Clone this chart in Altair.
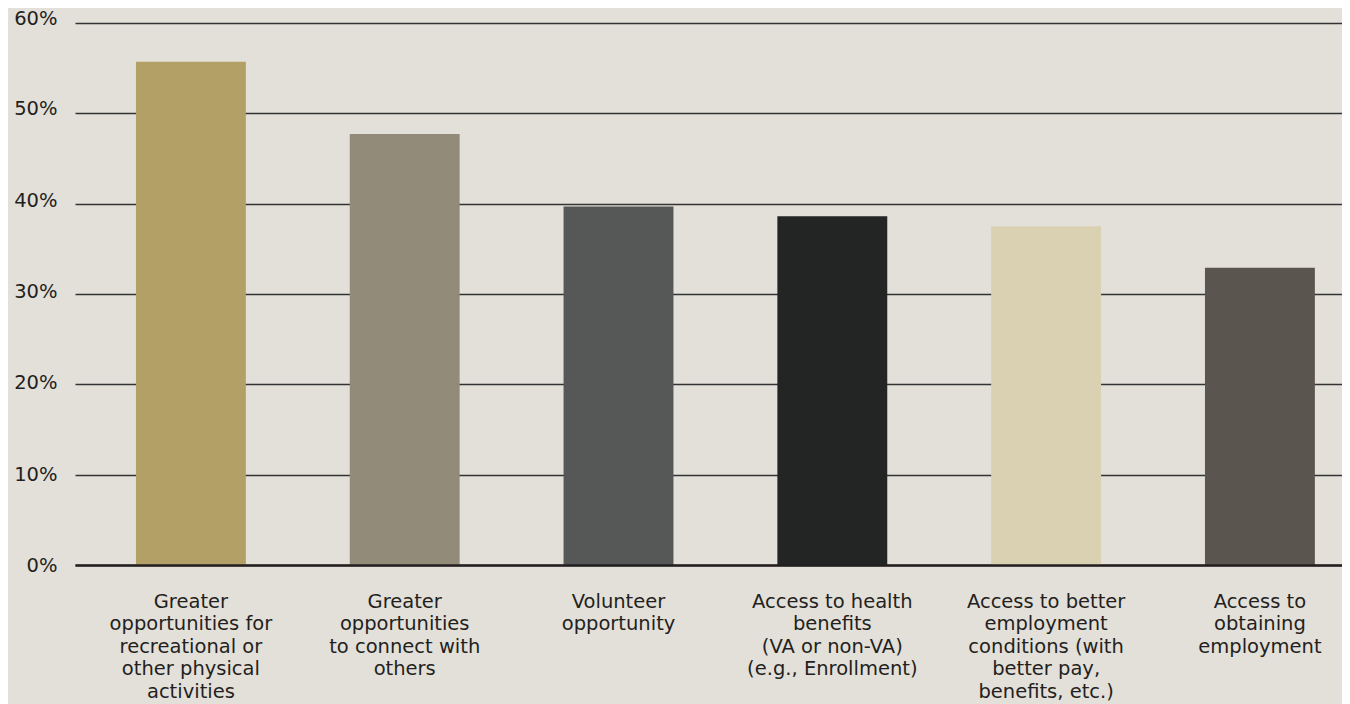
import altair as alt
import pandas as pd

categories = [
    "Greater|opportunities for|recreational or|other physical|activities",
    "Greater|opportunities|to connect with|others",
    "Volunteer|opportunity",
    "Access to health|benefits|(VA or non-VA)|(e.g., Enrollment)",
    "Access to better|employment|conditions (with|better pay,|benefits, etc.)",
    "Access to|obtaining|employment",
]
values = [55.7, 47.7, 39.7, 38.6, 37.5, 32.9]
colors = ["#b3a067", "#938b7a", "#555856", "#232524", "#dad1b2", "#5a554e"]
y_ticks = [0, 10, 20, 30, 40, 50, 60]

df = pd.DataFrame({"cat": categories, "val": values, "color": colors})

FONT = "DejaVu Sans"
TEXT = "#231f20"

y_label_offset = {
    "condition": [
        {"test": "datum.value == 60", "value": -5},
        {"test": "datum.value == 50", "value": -4.5},
        {"test": "datum.value == 40", "value": -3.5},
        {"test": "datum.value == 30", "value": -2.5},
        {"test": "datum.value == 20", "value": -1.5},
        {"test": "datum.value == 10", "value": -0.5},
    ],
    "value": 0.5,
}

chart = alt.Chart(df).mark_bar().encode(
    x=alt.X(
        "cat:N",
        sort=categories,
        title=None,
        scale=alt.Scale(paddingInner=0.486, paddingOuter=0.206, align=0.692),
        axis=alt.Axis(
            labelExpr="split(datum.label, '|')",
            labelAngle=0,
            labelAlign="center",
            labelBaseline="top",
            labelPadding=27,
            labelFont=FONT,
            labelFontSize=19.5,
            labelLineHeight=22.5,
            labelColor=TEXT,
            labelLimit=0,
            ticks=False,
            domainColor=TEXT,
            domainWidth=2.5,
            grid=False,
            zindex=1,
        ),
    ),
    y=alt.Y(
        "val:Q",
        title=None,
        scale=alt.Scale(domain=[0, 60], nice=False),
        axis=alt.Axis(
            values=y_ticks,
            labelExpr="datum.value + '%'",
            labelFont=FONT,
            labelFontSize=19.5,
            labelColor=TEXT,
            labelPadding=18,
            labelBaseline="middle",
            labelOffset=y_label_offset,
            ticks=False,
            domain=False,
            grid=True,
            gridColor="#333333",
            gridWidth=1.5,
        ),
    ),
    color=alt.Color("color:N", scale=None, legend=None),
).properties(
    width=1267,
    height=542,
    background="#e3e0d9",
    padding={"left": 67, "top": 15, "right": 0, "bottom": 139},
    autosize=alt.AutoSizeParams(type="none"),
).configure_view(stroke=None)

chart.save("out.html", embed_options={"renderer": "svg", "actions": False})
